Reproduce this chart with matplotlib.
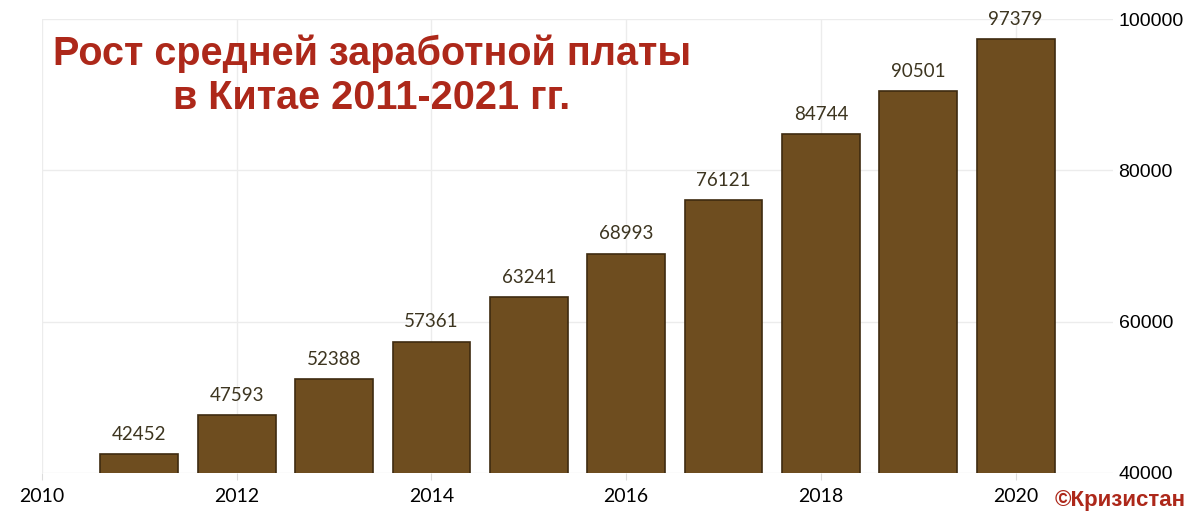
import numpy as np
import matplotlib
matplotlib.use('Agg')
import matplotlib.pyplot as plt

years = [2011, 2012, 2013, 2014, 2015, 2016, 2017, 2018, 2019, 2020]
wages = [42452, 47593, 52388, 57361, 63241, 68993, 76121, 84744, 90501, 97379]
x_ticks = [2010, 2012, 2014, 2016, 2018, 2020]
y_ticks = [40000, 60000, 80000, 100000]
title = 'Рост средней заработной платы\nв Китае 2011-2021 гг.'
credit = '©Кризистан'


def main():
    fig = plt.figure(figsize=(12, 5.22), dpi=100)
    ax = fig.add_axes([0.035, 0.094, 0.8925, 0.8696])

    ax.bar(years, wages, width=0.8, color='#6e4d1f', edgecolor='#3e2b10',
           linewidth=1.2, zorder=3)

    for x, v in zip(years, wages):
        ax.annotate(str(v), (x, v), xytext=(0, 8), textcoords='offset points',
                    ha='center', va='bottom', fontsize=13.5, color='#3d3520',
                    family='Lato', zorder=4)

    ax.set_xlim(2010, 2021)
    ax.set_ylim(40000, 100000)
    ax.set_xticks(x_ticks)
    ax.set_yticks(y_ticks)

    ax.yaxis.tick_right()
    ax.grid(True, color='#ececec', linewidth=1, zorder=0)
    for s in ax.spines.values():
        s.set_visible(False)

    ax.tick_params(axis='x', length=5, color='#dcdcdc', labelsize=14, pad=6,
                   labelfontfamily='Lato')
    ax.tick_params(axis='y', length=0, labelsize=14, pad=4,
                   labelfontfamily='Liberation Sans')

    fig.text(0.31, 0.854, title, ha='center', va='center', fontsize=28.5,
             fontweight='bold', color='#ad281a', family='Liberation Sans',
             linespacing=1.2)
    fig.text(0.988, 0.042, credit, ha='right', va='center', fontsize=16,
             fontweight='bold', color='#ad281a', family='Liberation Sans')

    fig.savefig('out.png', dpi=100, facecolor='white')


if __name__ == '__main__':
    main()
